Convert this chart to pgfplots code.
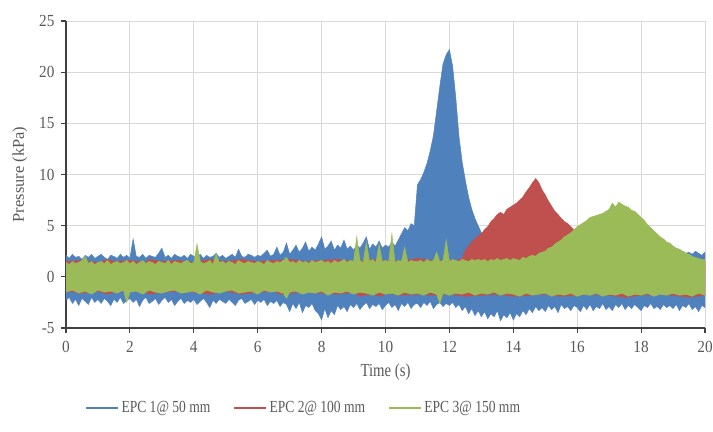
\documentclass[border=0pt]{standalone}
\usepackage{pgfplots}
\pgfplotsset{compat=1.18}
\usepgfplotslibrary{fillbetween}
\usepackage{fontspec}
\setmainfont{Liberation Serif}[FakeStretch=0.8]
\newfontfamily\ylabfont{Liberation Serif}
\newfontfamily\tickfont{Liberation Serif}[FakeStretch=0.9]
\definecolor{blueC}{HTML}{4F81BD}
\definecolor{redC}{HTML}{C0504D}
\definecolor{greenC}{HTML}{9BBB59}
\definecolor{gridC}{HTML}{D9D9D9}
\definecolor{axC}{HTML}{404040}
\definecolor{txtC}{HTML}{595959}
\begin{document}
\begin{tikzpicture}
\begin{axis}[
  at={(66bp,104bp)}, anchor=south west,
  width=639bp, height=307bp, scale only axis,
  xmin=0, xmax=20, ymin=-5, ymax=25,
  xtick={0,2,...,20}, ytick={-5,0,...,25},
  grid=major, grid style={draw=gridC, line width=0.9pt},
  axis x line*=bottom, axis y line*=left,
  axis line style={-, draw=axC, line width=1.1pt},
  tick align=outside, major tick length=5bp,
  tick style={draw=axC, line width=1.1pt},
  /pgf/number format/assume math mode=true,
  ticklabel style={font=\tickfont\fontsize{17}{17}\selectfont, text=txtC},
  xticklabel style={yshift=-5bp},
  yticklabel style={xshift=-3bp},
  xlabel={Time (s)}, ylabel={Pressure (kPa)},
  xlabel style={font=\fontsize{18.5}{18.5}\selectfont, text=txtC, at={(axis description cs:0.5,-0.145)}, anchor=center},
  ylabel style={font=\ylabfont\fontsize{16.5}{16.5}\selectfont, text=txtC, at={(axis description cs:-0.072,0.5)}, anchor=center},
  legend columns=3,
  legend image code/.code={\draw[#1] (0bp,0bp) -- (32bp,0bp);},
  legend style={at={(axis description cs:0.372,-0.26)}, anchor=center, draw=none, fill=none,
    font=\fontsize{17}{17}\selectfont, text=txtC,
    /tikz/every even column/.append style={column sep=21bp}},
]
\addlegendimage{blueC, line width=2.2pt}
\addlegendentry{EPC 1@ 50 mm}
\addlegendimage{redC, line width=2.2pt}
\addlegendentry{EPC 2@ 100 mm}
\addlegendimage{greenC, line width=2.2pt}
\addlegendentry{EPC 3@ 150 mm}

% ---- EPC 1 (blue)
\addplot[name path=bu, draw=none, forget plot] table[row sep=\\] {
0.0 2.1\\0.1 1.8\\0.2 2.2\\0.3 1.9\\0.4 2.0\\0.5 1.7\\0.6 2.1\\0.7 1.9\\0.8 2.2\\0.9 1.8\\
1.0 2.0\\1.1 2.2\\1.2 1.9\\1.3 1.7\\1.4 2.1\\1.5 2.0\\1.6 1.8\\1.7 2.2\\1.8 1.9\\1.9 2.1\\
2.0 1.8\\2.1 3.7\\2.2 2.0\\2.3 1.9\\2.4 2.2\\2.5 1.8\\2.6 2.1\\2.7 2.0\\2.8 1.9\\2.9 2.3\\
3.0 2.8\\3.1 1.9\\3.2 2.1\\3.3 1.8\\3.4 2.2\\3.5 2.0\\3.6 1.9\\3.7 2.1\\3.8 1.8\\3.9 2.2\\
4.0 2.0\\4.1 1.9\\4.2 2.2\\4.3 1.8\\4.4 2.1\\4.5 1.9\\4.6 2.0\\4.7 2.3\\4.8 1.9\\4.9 2.1\\
5.0 1.8\\5.1 2.0\\5.2 2.2\\5.3 1.9\\5.4 2.7\\5.5 2.0\\5.6 1.9\\5.7 2.2\\5.8 2.1\\5.9 1.9\\
6.0 2.1\\6.1 2.0\\6.2 2.3\\6.3 2.6\\6.4 2.0\\6.5 2.2\\6.6 2.9\\6.7 2.1\\6.8 2.4\\6.9 3.3\\
7.0 2.2\\7.1 2.6\\7.2 3.1\\7.3 2.4\\7.4 2.8\\7.5 3.4\\7.6 2.5\\7.7 2.9\\7.8 2.6\\7.9 3.2\\
8.0 3.9\\8.1 2.7\\8.2 3.0\\8.3 3.5\\8.4 2.6\\8.5 3.1\\8.6 2.8\\8.7 3.6\\8.8 2.7\\8.9 3.0\\
9.0 2.6\\9.1 3.1\\9.2 2.8\\9.3 3.3\\9.4 3.9\\9.5 2.7\\9.6 3.2\\9.7 2.9\\9.8 3.5\\9.9 2.8\\
10.0 3.1\\10.1 2.9\\10.2 3.4\\10.3 3.0\\10.4 3.6\\10.5 4.2\\10.6 4.8\\10.7 4.5\\10.8 5.2\\10.9 5.0\\
11.0 9.0\\11.1 9.5\\11.2 10.2\\11.3 11.1\\11.4 12.3\\11.5 13.8\\11.6 16.2\\11.7 18.6\\11.8 20.8\\11.9 21.7\\
12.0 22.2\\12.1 20.6\\12.2 17.5\\12.3 13.7\\12.4 11.2\\12.5 9.4\\12.6 7.8\\12.7 6.6\\12.8 5.7\\12.9 5.0\\
13.0 4.3\\13.1 3.8\\13.2 3.4\\13.3 3.1\\13.4 2.9\\13.5 2.8\\13.6 2.7\\13.7 2.6\\13.8 2.6\\13.9 2.5\\
14.0 2.5\\14.5 2.4\\15.0 2.4\\15.5 2.3\\16.0 2.4\\16.5 2.3\\17.0 2.4\\17.5 2.3\\18.0 2.2\\18.4 2.3\\
18.5 2.4\\18.6 2.2\\18.7 2.5\\18.8 2.3\\18.9 2.2\\19.0 2.5\\19.1 2.3\\19.2 2.2\\19.3 2.5\\19.4 2.3\\
19.5 2.4\\19.6 2.2\\19.7 2.5\\19.8 2.3\\19.9 2.1\\20.0 2.4\\
};
\addplot[name path=bl, draw=none, forget plot] table[row sep=\\] {
0.0 -2.3\\0.1 -2.0\\0.2 -2.6\\0.3 -2.2\\0.4 -2.8\\0.5 -2.1\\0.6 -2.4\\0.7 -2.7\\0.8 -2.0\\0.9 -2.5\\
1.0 -2.2\\1.1 -2.6\\1.2 -2.1\\1.3 -2.4\\1.4 -2.8\\1.5 -2.2\\1.6 -2.5\\1.7 -2.0\\1.8 -2.6\\1.9 -2.3\\
2.0 -2.1\\2.1 -2.5\\2.2 -2.2\\2.3 -2.9\\2.4 -2.3\\2.5 -2.0\\2.6 -2.6\\2.7 -2.4\\2.8 -2.1\\2.9 -2.7\\
3.0 -2.3\\3.1 -2.0\\3.2 -2.5\\3.3 -2.2\\3.4 -2.8\\3.5 -2.4\\3.6 -2.1\\3.7 -2.6\\3.8 -2.3\\3.9 -2.5\\
4.0 -2.2\\4.1 -2.7\\4.2 -2.4\\4.3 -2.1\\4.4 -2.5\\4.5 -3.0\\4.6 -2.3\\4.7 -2.6\\4.8 -2.2\\4.9 -2.4\\
5.0 -2.6\\5.1 -2.2\\5.2 -2.5\\5.3 -2.8\\5.4 -2.3\\5.5 -2.1\\5.6 -2.6\\5.7 -2.4\\5.8 -2.2\\5.9 -2.7\\
6.0 -2.3\\6.1 -2.5\\6.2 -2.2\\6.3 -2.8\\6.4 -2.4\\6.5 -2.6\\6.6 -2.3\\6.7 -2.9\\6.8 -2.5\\6.9 -2.7\\
7.0 -3.4\\7.1 -2.6\\7.2 -3.1\\7.3 -2.5\\7.4 -3.5\\7.5 -2.8\\7.6 -3.0\\7.7 -2.6\\7.8 -3.3\\7.9 -3.6\\
8.0 -4.2\\8.1 -3.1\\8.2 -4.0\\8.3 -3.3\\8.4 -3.7\\8.5 -2.8\\8.6 -3.2\\8.7 -2.9\\8.8 -3.4\\8.9 -2.7\\
9.0 -3.0\\9.1 -2.6\\9.2 -3.2\\9.3 -2.8\\9.4 -2.5\\9.5 -3.1\\9.6 -2.7\\9.7 -2.9\\9.8 -2.6\\9.9 -3.2\\
10.0 -2.8\\10.1 -2.5\\10.2 -3.0\\10.3 -2.7\\10.4 -3.3\\10.5 -2.6\\10.6 -2.9\\10.7 -2.5\\10.8 -3.1\\10.9 -2.7\\
11.0 -2.6\\11.1 -3.0\\11.2 -2.5\\11.3 -2.8\\11.4 -2.4\\11.5 -3.1\\11.6 -2.7\\11.7 -2.5\\11.8 -2.9\\11.9 -2.6\\
12.0 -2.8\\12.1 -2.5\\12.2 -3.0\\12.3 -2.7\\12.4 -3.3\\12.5 -2.9\\12.6 -3.6\\12.7 -3.1\\12.8 -3.8\\12.9 -3.3\\
13.0 -3.9\\13.1 -3.4\\13.2 -4.1\\13.3 -3.6\\13.4 -3.9\\13.5 -3.3\\13.6 -4.3\\13.7 -3.7\\13.8 -4.0\\13.9 -3.5\\
14.0 -4.2\\14.1 -3.6\\14.2 -3.9\\14.3 -3.3\\14.4 -3.7\\14.5 -3.1\\14.6 -3.5\\14.7 -2.9\\14.8 -3.3\\14.9 -3.0\\
15.0 -3.4\\15.1 -2.8\\15.2 -3.2\\15.3 -2.9\\15.4 -3.5\\15.5 -2.7\\15.6 -3.1\\15.7 -2.9\\15.8 -3.3\\15.9 -2.8\\
16.0 -3.0\\16.1 -3.4\\16.2 -2.8\\16.3 -3.2\\16.4 -2.7\\16.5 -3.3\\16.6 -2.9\\16.7 -3.1\\16.8 -2.6\\16.9 -3.2\\
17.0 -2.9\\17.1 -3.3\\17.2 -2.7\\17.3 -3.0\\17.4 -2.6\\17.5 -3.2\\17.6 -2.8\\17.7 -3.1\\17.8 -2.7\\17.9 -3.0\\
18.0 -3.3\\18.1 -2.8\\18.2 -3.0\\18.3 -2.6\\18.4 -3.1\\18.5 -2.9\\18.6 -3.2\\18.7 -2.7\\18.8 -3.0\\18.9 -2.8\\
19.0 -3.1\\19.1 -2.7\\19.2 -3.3\\19.3 -2.8\\19.4 -3.0\\19.5 -2.6\\19.6 -3.2\\19.7 -2.9\\19.8 -3.4\\19.9 -2.8\\
20.0 -3.0\\
};
\addplot[fill=blueC, draw=blueC, line width=0.5pt, forget plot] fill between[of=bu and bl];

% ---- EPC 2 (red)
\addplot[name path=ru, draw=none, forget plot] table[row sep=\\] {
0.0 1.5\\0.5 1.6\\1.0 1.4\\1.3 1.7\\1.5 1.5\\2.0 1.6\\2.5 1.4\\2.6 1.7\\3.0 1.5\\3.5 1.6\\
4.0 1.4\\4.5 1.7\\5.0 1.5\\5.5 1.7\\6.0 1.5\\6.5 1.6\\7.0 1.7\\7.5 1.5\\8.0 1.6\\8.5 1.7\\
9.0 1.5\\9.5 1.7\\10.0 1.6\\10.5 1.5\\11.0 1.8\\11.5 1.6\\12.0 1.6\\12.1 1.7\\12.2 1.5\\12.3 1.7\\
12.4 1.8\\12.5 2.6\\12.6 3.0\\12.7 3.4\\12.8 3.7\\12.9 4.0\\13.0 4.2\\13.1 4.6\\13.2 4.9\\13.3 5.4\\
13.4 5.7\\13.5 6.1\\13.6 6.3\\13.7 6.1\\13.8 6.6\\13.9 6.8\\14.0 7.0\\14.1 7.2\\14.2 7.5\\14.3 7.8\\
14.4 8.3\\14.5 8.7\\14.6 9.2\\14.7 9.6\\14.8 9.2\\14.9 8.5\\15.0 8.0\\15.1 7.4\\15.2 6.9\\15.3 6.4\\
15.4 6.1\\15.5 5.7\\15.6 5.4\\15.7 5.2\\15.8 4.9\\15.9 4.6\\16.0 3.6\\16.1 2.8\\16.2 2.3\\16.5 2.0\\
17.0 1.8\\17.5 1.6\\18.0 1.7\\18.5 1.5\\19.0 1.6\\19.5 1.5\\20.0 1.6\\
};
\addplot[name path=rl, draw=none, forget plot] table[row sep=\\] {
0.0 -1.4\\0.5 -1.6\\1.0 -1.4\\1.3 -1.7\\1.5 -1.5\\2.0 -1.3\\2.5 -1.5\\2.6 -1.7\\3.0 -1.5\\3.5 -1.4\\
4.0 -1.5\\4.5 -1.7\\5.0 -1.4\\5.5 -1.7\\6.0 -1.5\\6.5 -1.4\\6.7 -1.7\\7.0 -1.6\\7.5 -1.5\\8.0 -1.6\\
8.5 -1.7\\9.0 -1.5\\9.2 -1.9\\9.5 -1.7\\9.9 -1.9\\10.0 -1.6\\10.5 -1.8\\11.0 -1.7\\11.5 -1.8\\12.0 -1.7\\
12.5 -1.9\\13.0 -1.8\\13.5 -1.7\\14.0 -1.9\\14.5 -1.8\\15.0 -1.7\\15.5 -1.9\\16.0 -1.8\\16.5 -1.7\\17.0 -1.8\\
17.5 -2.0\\18.0 -1.8\\18.5 -1.7\\19.0 -1.8\\19.5 -2.0\\20.0 -1.8\\
};
\addplot[fill=redC, draw=redC, line width=0.5pt, forget plot] fill between[of=ru and rl];

% ---- EPC 3 (green)
\addplot[name path=gu, draw=none, forget plot] table[row sep=\\] {
0.0 1.4\\0.1 1.2\\0.2 1.5\\0.3 1.3\\0.4 1.4\\0.5 1.6\\0.6 2.0\\0.7 1.3\\0.8 1.5\\0.9 1.2\\
1.0 1.4\\1.1 1.5\\1.2 1.3\\1.3 1.6\\1.4 1.2\\1.5 1.4\\1.6 1.5\\1.7 1.3\\1.8 1.4\\1.9 1.6\\
2.0 1.3\\2.1 1.5\\2.2 1.2\\2.3 1.4\\2.4 1.6\\2.5 1.3\\2.6 1.5\\2.7 1.4\\2.8 1.2\\2.9 1.5\\
3.0 1.4\\3.1 1.3\\3.2 1.6\\3.3 1.2\\3.4 1.5\\3.5 1.4\\3.6 1.3\\3.7 1.5\\3.8 1.6\\3.9 1.3\\
4.0 1.4\\4.1 3.2\\4.2 1.5\\4.3 1.3\\4.4 1.4\\4.5 1.6\\4.6 1.2\\4.7 2.3\\4.8 1.4\\4.9 1.5\\
5.0 1.3\\5.1 1.5\\5.2 1.4\\5.3 1.2\\5.4 1.6\\5.5 1.4\\5.6 1.3\\5.7 1.5\\5.8 1.4\\5.9 1.3\\
6.0 1.5\\6.1 1.4\\6.2 1.2\\6.3 1.6\\6.4 1.4\\6.5 1.3\\6.6 1.5\\6.7 1.4\\6.8 1.6\\6.9 1.9\\
7.0 1.4\\7.1 1.5\\7.2 1.3\\7.3 1.6\\7.4 1.4\\7.5 1.5\\7.6 1.3\\7.7 1.6\\7.8 1.4\\7.9 1.5\\
8.0 1.6\\8.1 1.4\\8.2 1.5\\8.3 1.3\\8.4 1.6\\8.5 1.4\\8.6 1.5\\8.7 1.7\\8.8 1.4\\8.9 1.6\\
9.0 1.5\\9.1 3.9\\9.2 1.6\\9.3 1.4\\9.4 3.4\\9.5 1.5\\9.6 1.7\\9.7 1.4\\9.8 3.2\\9.9 1.5\\
10.0 1.6\\10.1 1.5\\10.2 4.2\\10.3 1.4\\10.4 1.6\\10.5 1.5\\10.6 2.9\\10.7 1.4\\10.8 1.6\\10.9 1.5\\
11.0 1.5\\11.1 1.6\\11.2 1.4\\11.3 1.7\\11.4 1.5\\11.5 1.6\\11.6 2.4\\11.7 1.5\\11.8 1.6\\11.9 3.6\\
12.0 1.5\\12.1 1.7\\12.2 1.6\\12.3 1.5\\12.4 1.7\\12.5 1.6\\12.6 1.5\\12.7 1.7\\12.8 1.6\\12.9 1.7\\
13.0 1.6\\13.1 1.7\\13.2 1.5\\13.3 1.7\\13.4 1.6\\13.5 1.8\\13.6 1.6\\13.7 1.7\\13.8 1.8\\13.9 1.6\\
14.0 1.8\\14.1 1.7\\14.2 1.6\\14.3 1.9\\14.4 1.8\\14.5 2.0\\14.6 2.1\\14.7 2.0\\14.8 2.3\\14.9 2.4\\
15.0 2.5\\15.1 2.8\\15.2 2.9\\15.3 3.2\\15.4 3.4\\15.5 3.6\\15.6 3.9\\15.7 4.1\\15.8 4.3\\15.9 4.6\\
16.0 4.9\\16.1 5.1\\16.2 5.3\\16.3 5.5\\16.4 5.8\\16.5 5.9\\16.6 6.0\\16.7 6.1\\16.8 6.2\\16.9 6.4\\
17.0 6.6\\17.1 7.2\\17.2 6.8\\17.3 7.3\\17.4 7.1\\17.5 6.9\\17.6 6.8\\17.7 6.5\\17.8 6.4\\17.9 6.1\\
18.0 5.8\\18.1 5.5\\18.2 5.1\\18.3 4.8\\18.4 4.5\\18.5 4.2\\18.6 3.9\\18.7 3.7\\18.8 3.4\\18.9 3.3\\
19.0 3.0\\19.1 2.8\\19.2 2.7\\19.3 2.5\\19.4 2.3\\19.5 2.2\\19.6 2.0\\19.7 1.9\\19.8 1.8\\19.9 1.7\\
20.0 1.7\\
};
\addplot[name path=gl, draw=none, forget plot] table[row sep=\\] {
0.0 -1.5\\0.2 -1.3\\0.4 -1.6\\0.6 -1.4\\0.8 -1.7\\1.0 -1.3\\1.2 -1.5\\1.4 -1.4\\1.6 -1.6\\1.8 -1.3\\
1.9 -2.5\\2.0 -1.5\\2.2 -1.4\\2.4 -1.7\\2.6 -1.3\\2.8 -1.5\\3.0 -1.6\\3.2 -1.4\\3.4 -1.3\\3.6 -1.6\\
3.8 -1.5\\4.0 -1.4\\4.2 -1.7\\4.4 -1.3\\4.6 -1.5\\4.8 -1.6\\5.0 -1.4\\5.2 -1.3\\5.4 -1.6\\5.6 -1.5\\
5.8 -1.4\\6.0 -1.7\\6.2 -1.3\\6.4 -1.5\\6.6 -1.4\\6.8 -1.6\\6.9 -2.1\\7.0 -1.5\\7.2 -1.4\\7.4 -1.7\\
7.6 -1.5\\7.8 -1.6\\8.0 -1.4\\8.2 -1.8\\8.4 -1.5\\8.6 -1.6\\8.8 -1.4\\9.0 -1.7\\9.2 -1.5\\9.4 -1.6\\
9.6 -1.8\\9.8 -1.5\\10.0 -1.7\\10.2 -1.6\\10.4 -1.8\\10.6 -1.5\\10.8 -1.7\\11.0 -1.6\\11.2 -1.8\\11.4 -1.5\\
11.6 -1.7\\11.7 -2.6\\11.8 -1.6\\12.0 -1.8\\12.2 -1.6\\12.4 -1.7\\12.6 -1.5\\12.8 -1.8\\13.0 -1.6\\13.2 -1.7\\
13.4 -1.5\\13.6 -1.8\\13.8 -1.6\\14.0 -1.7\\14.2 -1.9\\14.4 -1.6\\14.6 -1.8\\14.8 -1.7\\15.0 -1.6\\15.2 -1.9\\
15.4 -1.7\\15.6 -1.8\\15.8 -1.6\\16.0 -1.9\\16.2 -1.7\\16.4 -1.8\\16.6 -1.6\\16.8 -1.9\\17.0 -1.7\\17.2 -1.8\\
17.4 -1.6\\17.6 -1.9\\17.8 -1.7\\18.0 -1.8\\18.2 -1.6\\18.4 -1.9\\18.6 -1.7\\18.8 -1.8\\19.0 -1.6\\19.2 -1.8\\
19.4 -1.7\\19.6 -1.9\\19.8 -1.6\\20.0 -1.8\\
};
\addplot[fill=greenC, draw=greenC, line width=0.5pt, forget plot] fill between[of=gu and gl];
\end{axis}
\pgfresetboundingbox
\path[use as bounding box] (0,0) rectangle (713bp,432bp);
\end{tikzpicture}
\end{document}
